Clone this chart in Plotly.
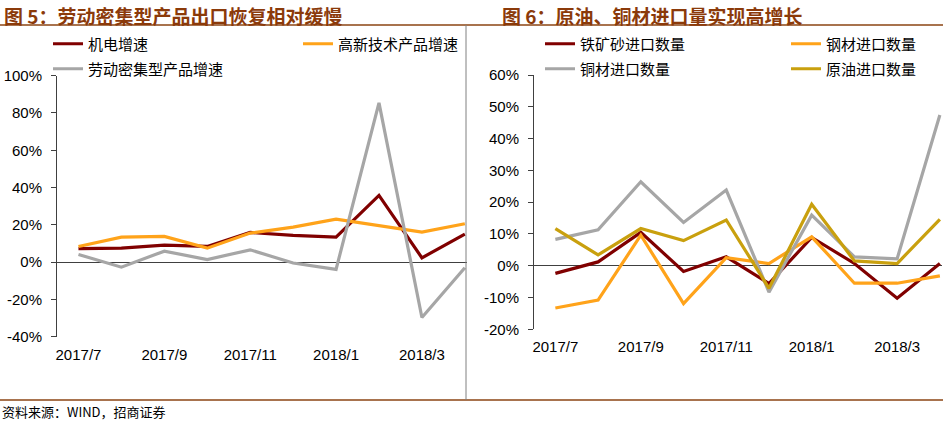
import plotly.graph_objects as go

W, H = 943, 421

months = ["2017/7", "2017/8", "2017/9", "2017/10", "2017/11", "2017/12",
          "2018/1", "2018/2", "2018/3", "2018/4"]
tick_labels = ["2017/7", "2017/9", "2017/11", "2018/1", "2018/3"]

# Figure 5 (left)
jidian = [7.2, 7.5, 9.1, 8.4, 15.9, 14.3, 13.4, 35.8, 2.3, 15.0]
gaoxin = [8.4, 13.4, 13.8, 7.5, 15.6, 18.8, 23.1, 19.7, 16.1, 20.6]
laodong = [4.1, -2.7, 5.9, 1.4, 6.6, -0.5, -3.9, 85.4, -29.7, -3.0]
left_ticks = [-40, -20, 0, 20, 40, 60, 80, 100]

# Figure 6 (right)
tiekuang = [-2.4, 1.2, 10.5, -1.8, 2.8, -5.6, 8.9, 0.7, -10.2, 0.7]
gangcai = [-13.3, -10.8, 9.6, -11.9, 2.5, 0.7, 9.1, -5.5, -5.5, -3.2]
tongcai = [8.3, 11.3, 26.4, 13.6, 23.8, -8.3, 15.9, 2.8, 2.2, 47.4]
yuanyou = [11.7, 3.4, 11.7, 7.9, 14.4, -7.1, 19.3, 1.5, 0.7, 14.6]
right_ticks = [-20, -10, 0, 10, 20, 30, 40, 50, 60]

DARKRED = "#800000"
ORANGE = "#FFA31A"
GRAY = "#A6A6A6"
GOLD = "#C9A00E"
BROWN = "#8B4513"
TITLE_C = "#8B3A0A"

xi = list(range(len(months)))

def px_x(p):
    return p / W

def px_y(p):
    return 1 - p / H

fig = go.Figure()

def add(y, name, color, xa, ya, legend):
    fig.add_trace(go.Scatter(
        x=xi, y=y, name=name, mode="lines",
        line=dict(color=color, width=3.2),
        xaxis=xa, yaxis=ya, legend=legend,
        hovertext=months,
    ))

add(jidian, "机电增速", DARKRED, "x", "y", "legend")
add(gaoxin, "高新技术产品增速", ORANGE, "x", "y", "legend")
add(laodong, "劳动密集型产品增速", GRAY, "x", "y", "legend2")

add(tiekuang, "铁矿砂进口数量", DARKRED, "x2", "y2", "legend3")
add(gangcai, "钢材进口数量", ORANGE, "x2", "y2", "legend3")
add(tongcai, "铜材进口数量", GRAY, "x2", "y2", "legend4")
add(yuanyou, "原油进口数量", GOLD, "x2", "y2", "legend4")

tickfont = dict(family="Liberation Sans, Arial, sans-serif", size=15, color="#000000")
tickvals = [0, 2, 4, 6, 8]

xcommon = dict(tickmode="array", tickvals=tickvals, ticktext=tick_labels,
               range=[-0.5, 9.05], showgrid=False, zeroline=False, showline=False,
               ticks="outside", ticklen=4, tickcolor="rgba(0,0,0,0)",
               tickfont=tickfont, fixedrange=True)
ycommon = dict(showgrid=False, zeroline=True, zerolinecolor="#404040", zerolinewidth=1,
               showline=True, linecolor="#404040", linewidth=1,
               ticks="outside", ticklen=5, tickcolor="#404040", tickmode="array",
               tickfont=tickfont, ticklabelstandoff=6, fixedrange=True)

fig.update_layout(
    width=W, height=H,
    margin=dict(l=0, r=0, t=0, b=0, autoexpand=False),
    paper_bgcolor="white", plot_bgcolor="white",
    xaxis=dict(domain=[px_x(57), px_x(467)], anchor="y", **xcommon),
    yaxis=dict(domain=[px_y(336.7), px_y(75.7)], anchor="x", range=[-40, 100],
               tickvals=left_ticks, ticktext=[f"{v}%" for v in left_ticks], **ycommon),
    xaxis2=dict(domain=[px_x(534), px_x(942)], anchor="y2", **xcommon),
    yaxis2=dict(domain=[px_y(329.3), px_y(75)], anchor="x2", range=[-20, 60],
                tickvals=right_ticks, ticktext=[f"{v}%" for v in right_ticks], **ycommon),
    showlegend=True,
)

legfont = dict(family="Noto Sans CJK SC, sans-serif", size=15, color="#000000")
def leg(xp, yp, ew):
    return dict(x=px_x(xp), y=px_y(yp), xanchor="left", yanchor="middle",
                orientation="h", entrywidth=ew, entrywidthmode="pixels",
                font=legfont, bgcolor="rgba(0,0,0,0)", borderwidth=0,
                itemclick=False, itemdoubleclick=False, tracegroupgap=0)

fig.update_layout(
    legend=leg(48, 44, 205),
    legend2=leg(48, 69, 205),
    legend3=leg(540, 44, 201),
    legend4=leg(540, 69, 201),
)

titlefont = dict(family="Noto Sans CJK SC, sans-serif", size=19, color=TITLE_C, weight="bold")
fig.add_annotation(text="图 5：劳动密集型产品出口恢复相对缓慢", xref="paper", yref="paper",
                   x=px_x(2), y=1, xanchor="left", yanchor="top",
                   showarrow=False, font=titlefont)
fig.add_annotation(text="图 6：原油、铜材进口量实现高增长", xref="paper", yref="paper",
                   x=px_x(500), y=1, xanchor="left", yanchor="top",
                   showarrow=False, font=titlefont)
fig.add_annotation(text="资料来源：WIND，招商证券", xref="paper", yref="paper",
                   x=0, y=px_y(411), xanchor="left", yanchor="middle",
                   showarrow=False,
                   font=dict(family="Noto Sans CJK SC, sans-serif", size=13, color="#000000"))

# frame lines
fig.add_shape(type="line", xref="paper", yref="paper", x0=0, x1=1,
              y0=px_y(25), y1=px_y(25), line=dict(color=BROWN, width=1.5))
fig.add_shape(type="line", xref="paper", yref="paper", x0=0, x1=1,
              y0=px_y(400), y1=px_y(400), line=dict(color=BROWN, width=1.5))
fig.add_shape(type="line", xref="paper", yref="paper", x0=px_x(466), x1=px_x(466),
              y0=px_y(25), y1=px_y(400), line=dict(color="#808080", width=1))

fig.write_html("out.html", config={"displayModeBar": False},
               post_script="document.body.style.margin='0px';document.body.style.overflow='hidden';")
